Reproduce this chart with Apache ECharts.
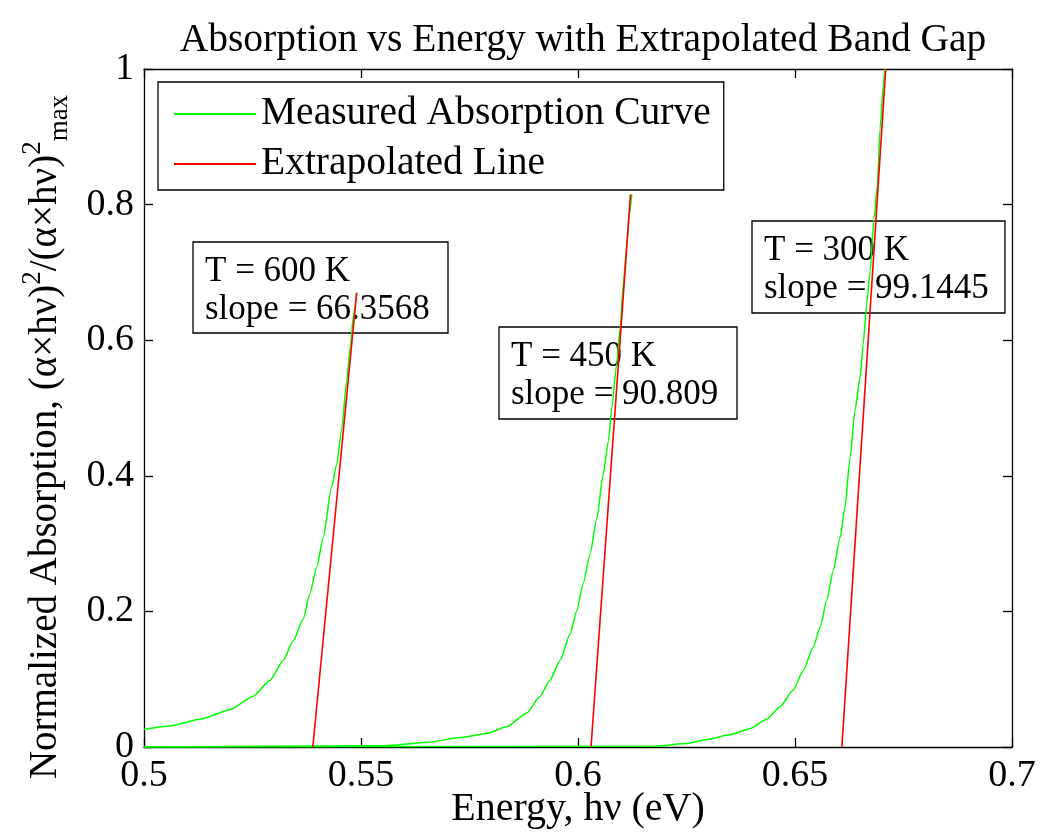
<!DOCTYPE html>
<html>
<head>
<meta charset="utf-8">
<script src="https://cdn.jsdelivr.net/npm/echarts@6/dist/echarts.min.js"></script>
<style>
  html, body { margin: 0; padding: 0; background: #fff; }
  #chart { width: 1040px; height: 839px; }
</style>
</head>
<body>
<div id="chart"></div>
<script>
// Absorption vs energy: three measured curves (green) with their tangent
// extrapolations (red) down to the band gap on the energy axis.

const FONT = '"Liberation Serif", "Times New Roman", serif';

const xTicks = [0.5, 0.55, 0.6, 0.65, 0.7];
const yTicks = [0, 0.2, 0.4, 0.6, 0.8, 1];

// measured curves, [energy eV, normalized absorption]
const curve600 = [
  [0.5000, 0.026], [0.5060, 0.031], [0.5129, 0.041], [0.5198, 0.055], [0.5252, 0.075],
  [0.5290, 0.098], [0.5321, 0.128], [0.5344, 0.157], [0.5367, 0.189], [0.5382, 0.226],
  [0.5398, 0.265], [0.5413, 0.309], [0.5432, 0.383], [0.5444, 0.417], [0.5455, 0.466],
  [0.5467, 0.540], [0.5475, 0.589], [0.5483, 0.638], [0.5490, 0.670],
];
const curve450 = [
  [0.5000, 0.000], [0.5555, 0.002], [0.5655, 0.007], [0.5728, 0.014], [0.5790, 0.020],
  [0.5836, 0.030], [0.5882, 0.050], [0.5912, 0.074], [0.5935, 0.098], [0.5959, 0.128],
  [0.5982, 0.167], [0.5997, 0.201], [0.6012, 0.241], [0.6028, 0.285], [0.6043, 0.336],
  [0.6058, 0.402], [0.6070, 0.451], [0.6078, 0.500], [0.6089, 0.564], [0.6097, 0.618],
  [0.6105, 0.687], [0.6111, 0.731], [0.6118, 0.785], [0.6124, 0.815],
];
const curve300 = [
  [0.5000, 0.000], [0.6172, 0.001], [0.6250, 0.005], [0.6296, 0.011], [0.6350, 0.018],
  [0.6396, 0.027], [0.6435, 0.041], [0.6465, 0.059], [0.6496, 0.084], [0.6519, 0.113],
  [0.6542, 0.147], [0.6558, 0.177], [0.6573, 0.216], [0.6588, 0.260], [0.6604, 0.309],
  [0.6615, 0.353], [0.6627, 0.427], [0.6638, 0.496], [0.6650, 0.545], [0.6657, 0.594],
  [0.6665, 0.652], [0.6673, 0.701], [0.6682, 0.780], [0.6690, 0.829], [0.6696, 0.912],
  [0.6704, 0.981], [0.6707, 1.000],
];

// extrapolated lines (endpoints)
const line600 = [[0.5389, 0], [0.5490, 0.670]];
const line450 = [[0.6030, 0], [0.6121, 0.815]];
const line300 = [[0.6608, 0], [0.6709, 1.000]];

const temps = ['600', '450', '300'];
const slopes = ['66.3568', '90.809', '99.1445'];

const MEASURED = 'Measured Absorption Curve';
const EXTRAP = 'Extrapolated Line';

const chart = echarts.init(document.getElementById('chart'));

const green = (data) => ({
  name: MEASURED, type: 'line', data, symbol: 'none', smooth: 0.2, smoothMonotone: 'x',
  lineStyle: { color: '#00ff00', width: 1.5 }, itemStyle: { color: '#00ff00' },
  z: 2, animation: false,
});
const red = (data) => ({
  name: EXTRAP, type: 'line', data, symbol: 'none',
  lineStyle: { color: '#ff0000', width: 1.6 }, itemStyle: { color: '#ff0000' },
  z: 3, animation: false,
});

const axisCommon = {
  axisLine: { show: true, onZero: false, lineStyle: { color: '#000', width: 1.3 } },
  axisTick: { show: true, inside: true, length: 9, lineStyle: { color: '#000', width: 1.3 } },
  splitLine: { show: false },
};

// text boxes (box geometry in px, content from temps/slopes)
const boxes = [
  { x: 193, y: 242, w: 255, h: 91 },
  { x: 499, y: 327, w: 238, h: 92 },
  { x: 752, y: 221, w: 253, h: 92 },
];
const graphics = [];
boxes.forEach((b, i) => {
  graphics.push({
    type: 'rect', z: 1, silent: true,
    shape: { x: b.x, y: b.y, width: b.w, height: b.h },
    style: { fill: 'none', stroke: '#000', lineWidth: 1.3 },
  });
  graphics.push({
    type: 'text', z: 1, silent: true, x: b.x + 12, y: b.y + b.h / 2 + 3,
    style: {
      text: `T = ${temps[i]} K\nslope = ${slopes[i]}`,
      font: `35px ${FONT}`, fill: '#000', lineHeight: 38,
      align: 'left', verticalAlign: 'middle',
    },
  });
});
// y axis label with super/subscripts
graphics.push({
  type: 'text', silent: true, x: 46, y: 437, rotation: Math.PI / 2,
  style: {
    text: '{n|Normalized Absorption, (α×hν)}{sup|2}{n|/(α×hν)}{sup|2}{sub|max}',
    align: 'center', verticalAlign: 'middle',
    rich: {
      n: { fontFamily: FONT, fontSize: 39, lineHeight: 54, fill: '#000', verticalAlign: 'middle' },
      sup: { fontFamily: FONT, fontSize: 27, lineHeight: 27, fill: '#000', verticalAlign: 'top' },
      sub: { fontFamily: FONT, fontSize: 27, lineHeight: 27, fill: '#000', verticalAlign: 'bottom' },
    },
  },
});

chart.setOption({
  animation: false,
  backgroundColor: '#fff',
  title: {
    text: 'Absorption vs Energy with Extrapolated Band Gap',
    left: 578, top: 16, textAlign: 'center',
    textStyle: { fontFamily: FONT, fontSize: 39.5, fontWeight: 'normal', color: '#000' },
  },
  grid: { left: 144, right: 28, top: 69, bottom: 92, containLabel: false, outerBoundsMode: 'none' },
  legend: {
    orient: 'vertical', left: 158, top: 82,
    data: [MEASURED, EXTRAP],
    icon: 'rect', itemWidth: 82, itemHeight: 2, itemGap: 10,
    padding: [12, 13, 6, 16],
    backgroundColor: '#fff', borderColor: '#000', borderWidth: 1.3,
    textStyle: { fontFamily: FONT, fontSize: 39.5, color: '#000', lineHeight: 40, padding: [0, 0, 0, 0] },
    selectedMode: false,
  },
  xAxis: [
    {
      ...axisCommon, type: 'value', position: 'bottom',
      min: xTicks[0], max: xTicks[xTicks.length - 1], interval: 0.05,
      name: 'Energy, hν (eV)', nameLocation: 'middle', nameGap: 42, nameMoveOverlap: false,
      nameTextStyle: { fontFamily: FONT, fontSize: 40, color: '#000' },
      axisLabel: {
        margin: 10, color: '#000', fontFamily: FONT, fontSize: 38,
        formatter: (v) => String(xTicks.find((t) => Math.abs(t - v) < 1e-9) ?? ''),
      },
    },
    {
      ...axisCommon, type: 'value', position: 'top',
      min: xTicks[0], max: xTicks[xTicks.length - 1], interval: 0.05,
      axisLabel: { show: false },
    },
  ],
  yAxis: [
    {
      ...axisCommon, type: 'value', position: 'left',
      min: yTicks[0], max: yTicks[yTicks.length - 1], interval: 0.2,
      axisLabel: {
        margin: 10, color: '#000', fontFamily: FONT, fontSize: 38,
        formatter: (v) => String(yTicks.find((t) => Math.abs(t - v) < 1e-9) ?? ''),
      },
    },
    {
      ...axisCommon, type: 'value', position: 'right',
      min: yTicks[0], max: yTicks[yTicks.length - 1], interval: 0.2,
      axisLabel: { show: false },
    },
  ],
  graphic: graphics,
  series: [
    green(curve600), green(curve450), green(curve300),
    red(line600), red(line450), red(line300),
  ],
});
</script>
</body>
</html>
